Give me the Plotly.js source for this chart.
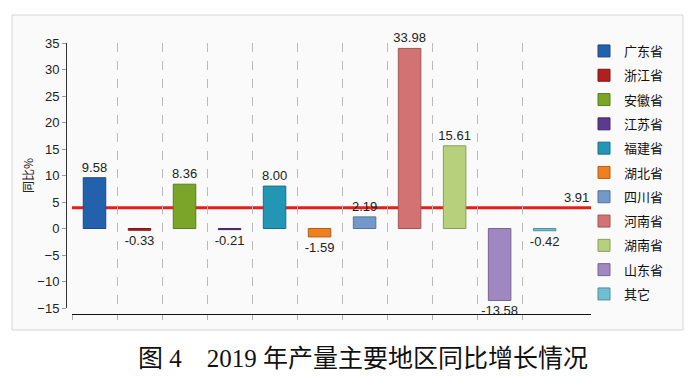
<!DOCTYPE html>
<html>
<head>
<meta charset="utf-8">
<script src="https://cdn.plot.ly/plotly-3.0.1.min.js"></script>
<style>html,body{margin:0;padding:0;background:#fff;}#chart{width:699px;height:380px;}</style>
</head>
<body>
<div id="chart"></div>
<script>
const categories = ['广东省','浙江省','安徽省','江苏省','福建省','湖北省','四川省','河南省','湖南省','山东省','其它'];
const growth = [9.58, -0.33, 8.36, -0.21, 8.00, -1.59, 2.19, 33.98, 15.61, -13.58, -0.42];
const average = 3.91;
const yTickValues = [-15, -10, -5, 0, 5, 10, 15, 20, 25, 30, 35];
const yAxisTitle = '同比%';
const chartTitle = '图 4&nbsp;&nbsp;&nbsp;&nbsp;2019 年产量主要地区同比增长情况';

const fillColors = ['#2461AC','#B0201E','#7BA529','#5B3B8C','#2496B5','#F07F1F','#7299C9','#D27272','#B6D07C','#9F88C1','#6EBFD2'];
const edgeColors = ['#1B4A85','#7E1715','#5C7C1F','#402A66','#1B7088','#B45F17','#55739A','#9E5656','#88A05C','#776690','#528F9E'];

const xBoundaries = categories.map((c, i) => i - 0.5);
const xRange = [-0.5, 11.03];

const traces = categories.map((name, i) => ({
  type: 'bar',
  name: name,
  legendgroup: name,
  x: [i],
  y: [growth[i]],
  width: 0.5,
  marker: { color: fillColors[i], line: { color: edgeColors[i], width: 1 } },
  text: [growth[i].toFixed(2)],
  textposition: 'outside',
  constraintext: 'none',
  cliponaxis: false,
  textfont: { family: 'Liberation Sans, Arial, sans-serif', size: 13, color: '#222' },
  hoverinfo: 'skip'
}));

const W = 699, H = 380;
const L = 66, R = 108, T = 43, B = 66;
const pw = W - L - R, ph = H - T - B;
const px = v => (v - L) / pw;
const py = v => (H - B - v) / ph;

const layout = {
  width: W, height: H,
  margin: { l: L, r: R, t: T, b: B },
  paper_bgcolor: '#ffffff',
  plot_bgcolor: '#E8E8E0',
  barmode: 'overlay',
  showlegend: true,
  font: { family: 'Liberation Sans, Arial, "Noto Sans CJK SC", sans-serif', color: '#222' },
  xaxis: {
    range: xRange,
    domain: [px(72), 1],
    anchor: 'free', position: 0,
    showline: true, linecolor: '#111', linewidth: 1,
    tickmode: 'array', tickvals: xBoundaries,
    showticklabels: false,
    ticks: 'outside', ticklen: 5, tickcolor: '#B0B0B0',
    showgrid: true, gridcolor: '#BBBBBB', griddash: 'dash', gridwidth: 1,
    zeroline: false, fixedrange: true
  },
  yaxis: {
    range: [-15, 35],
    domain: [py(308), 1],
    anchor: 'free', position: 0,
    showline: true, linecolor: '#333', linewidth: 1,
    tickmode: 'array', tickvals: yTickValues,
    ticks: 'outside', ticklen: 4, tickcolor: '#999',
    tickfont: { family: 'Liberation Sans, Arial, sans-serif', size: 13, color: '#222' },
    showgrid: false, zeroline: false, fixedrange: true
  },
  legend: {
    x: px(584), xanchor: 'left',
    y: py(36), yanchor: 'top',
    font: { family: '"Noto Sans CJK SC", sans-serif', size: 13, color: '#111' },
    tracegroupgap: 4.4,
    maxheight: 400,
    bgcolor: 'rgba(0,0,0,0)'
  },
  shapes: [
    { type: 'rect', xref: 'paper', yref: 'paper', layer: 'below',
      x0: px(12), x1: px(683), y0: py(330), y1: py(15),
      fillcolor: '#FAFAFA', line: { color: '#D6D6D6', width: 1 } },
    { type: 'line', xref: 'x domain', yref: 'y', layer: 'below',
      x0: 0, x1: 1, y0: average, y1: average,
      line: { color: '#E3201B', width: 3 } }
  ],
  annotations: [
    { xref: 'x domain', yref: 'y', x: 1, y: average, xanchor: 'right', yanchor: 'bottom',
      yshift: 1, showarrow: false, text: average.toFixed(2),
      font: { family: 'Liberation Sans, Arial, sans-serif', size: 13, color: '#222' } },
    { xref: 'paper', yref: 'paper', x: px(27), y: py(176), xanchor: 'center', yanchor: 'middle', textangle: -90,
      showarrow: false, text: yAxisTitle,
      font: { family: '"Noto Sans CJK SC", sans-serif', size: 12, color: '#222' } },
    { xref: 'paper', yref: 'paper', x: px(363), y: py(358), xanchor: 'center', yanchor: 'middle',
      showarrow: false, text: chartTitle,
      font: { family: '"Liberation Serif", "Noto Sans CJK SC", serif', size: 25, color: '#111' } }
  ]
};

Plotly.newPlot('chart', traces, layout, { displayModeBar: false, staticPlot: true });
</script>
</body>
</html>
